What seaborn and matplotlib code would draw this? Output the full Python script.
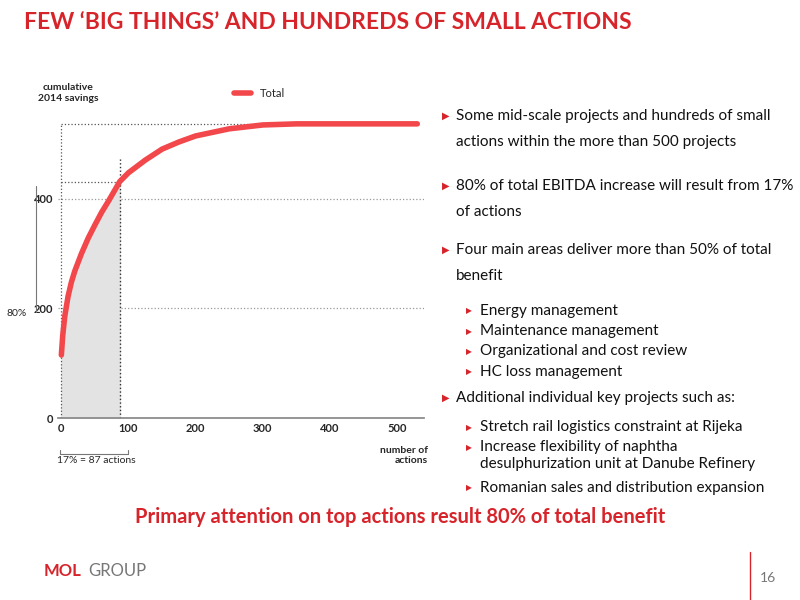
import matplotlib
matplotlib.use("Agg")
import matplotlib.pyplot as plt
import seaborn as sns
import numpy as np

actions = [0, 2, 5, 10, 15, 20, 30, 40, 50, 60, 70, 87, 100, 125, 150, 175, 200, 250, 300, 350, 450, 530]
savings = [115, 150, 185, 222, 248, 268, 300, 328, 352, 375, 395, 431, 447, 470, 490, 503, 514, 527, 534, 536, 536, 536]
cut_x = 87
cut_y = 431
top_y = 536

RED = "#d7242b"
sns.set_theme(style="white")
plt.rcParams["font.family"] = ["Lato", "DejaVu Sans"]

fig = plt.figure(figsize=(8, 6), dpi=100)
ax = fig.add_axes([0.0725, 0.303, 0.4575, 0.54])

xs = np.array(actions)
ys = np.array(savings)
mask = xs <= cut_x
ax.fill_between(xs[mask], ys[mask], color="#e3e3e3", zorder=1)
sns.lineplot(x=actions, y=savings, ax=ax, color="#f2484c", linewidth=4, label="Total", zorder=3)

for v in (200, 400):
    ax.axhline(v, color="#999999", linestyle=":", linewidth=0.9, zorder=0)
ax.plot([0, 530], [top_y, top_y], color="#555555", linestyle=":", linewidth=0.9)
ax.plot([0, cut_x], [cut_y, cut_y], color="#555555", linestyle=":", linewidth=0.9)
ax.plot([0, 0], [0, top_y], color="#555555", linestyle=":", linewidth=0.9)
ax.plot([cut_x, cut_x], [0, 475], color="#333333", linestyle=":", linewidth=1.0)

ax.set_xlim(-5, 540)
ax.set_ylim(0, 590)
ax.set_xticks([0, 100, 200, 300, 400, 500])
ax.set_yticks([0, 200, 400])
ax.tick_params(labelsize=8, length=0)
for t in ax.get_xticklabels() + ax.get_yticklabels():
    t.set_fontweight("bold")
for s in ("top", "right", "left"):
    ax.spines[s].set_visible(False)
ax.spines["bottom"].set_color("#888888")
ax.legend(loc="upper center", bbox_to_anchor=(0.55, 1.05), frameon=False, fontsize=8, handlelength=1.5)

fig.text(0.085, 0.832, "cumulative\n2014 savings", fontsize=7.5, fontweight="bold", ha="center")
fig.text(0.535, 0.228, "number of\nactions", fontsize=7.5, fontweight="bold", ha="right")
fig.text(0.008, 0.478, "80%", fontsize=7.5, va="center")
fig.text(0.12, 0.228, "17% = 87 actions", fontsize=7.5, ha="center")
fig.add_artist(plt.Line2D([0.075, 0.075, 0.16, 0.16], [0.25, 0.243, 0.243, 0.25], color="#777777", lw=0.8))
fig.add_artist(plt.Line2D([0.045, 0.045], [0.48, 0.69], color="#777777", lw=0.8))

fig.text(0.03, 0.962, "FEW ‘BIG THINGS’ AND HUNDREDS OF SMALL ACTIONS", color=RED, fontsize=16.5, fontweight="bold", va="center")

items = [
    (0, 0.807, "Some mid-scale projects and hundreds of small\nactions within the more than 500 projects"),
    (0, 0.690, "80% of total EBITDA increase will result from 17%\nof actions"),
    (0, 0.583, "Four main areas deliver more than 50% of total\nbenefit"),
    (1, 0.482, "Energy management"),
    (1, 0.448, "Maintenance management"),
    (1, 0.414, "Organizational and cost review"),
    (1, 0.380, "HC loss management"),
    (0, 0.337, "Additional individual key projects such as:"),
    (1, 0.288, "Stretch rail logistics constraint at Rijeka"),
    (1, 0.254, "Increase flexibility of naphtha\ndesulphurization unit at Danube Refinery"),
    (1, 0.187, "Romanian sales and distribution expansion"),
]
for lvl, y, txt in items:
    x = 0.57 if lvl == 0 else 0.60
    fig.text(x - 0.018, y, "▶", color=RED, fontsize=7 if lvl == 0 else 5.5, va="center", family=["DejaVu Sans"])
    fig.text(x, y + 0.012, txt, fontsize=11, va="top", color="#111111", linespacing=2.1 if lvl == 0 else 1.2)

fig.text(0.5, 0.128, "Primary attention on top actions result 80% of total benefit", color=RED,
         fontsize=14.5, fontweight="bold", ha="center")
fig.text(0.055, 0.048, "MOL", color=RED, fontsize=12, fontweight="bold", va="center")
fig.text(0.11, 0.048, "GROUP", color="#777777", fontsize=12, va="center")
fig.text(0.97, 0.03, "16", color="#777777", fontsize=10, ha="right")
fig.add_artist(plt.Line2D([0.937, 0.937], [0.0, 0.08], color=RED, lw=1))

fig.savefig("out.png", dpi=100)
